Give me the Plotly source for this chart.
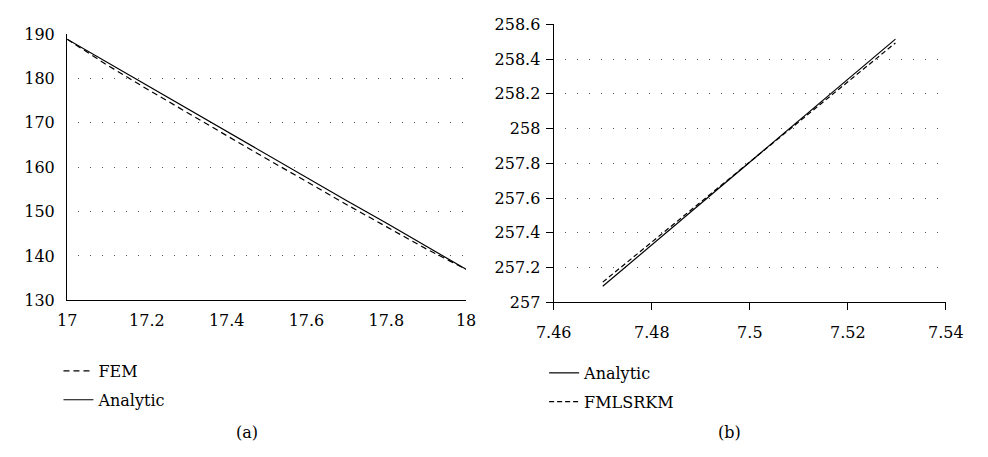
import plotly.graph_objects as go

# Panel (a)
x_a = [17.0, 17.1, 17.2, 17.3, 17.4, 17.5, 17.6, 17.7, 17.8, 17.9, 18.0]
fem = [188.8, 183.0, 177.6, 172.3, 167.1, 161.9, 156.7, 151.6, 146.6, 141.6, 137.0]
analytic_a = [188.8, 183.6, 178.4, 173.3, 168.1, 162.9, 157.7, 152.5, 147.4, 142.2, 137.0]

# Panel (b)
x_b = [7.470, 7.480, 7.490, 7.500, 7.510, 7.520, 7.5297]
analytic_b = [257.092, 257.330, 257.569, 257.807, 258.046, 258.284, 258.515]
fmlsrkm = [257.116, 257.347, 257.578, 257.808, 258.038, 258.268, 258.493]

xticks_a = [17, 17.2, 17.4, 17.6, 17.8, 18]
xticklabels_a = ["17", "17.2", "17.4", "17.6", "17.8", "18"]
yticks_a = [130, 140, 150, 160, 170, 180, 190]
xticks_b = [7.46, 7.48, 7.50, 7.52, 7.54]
xticklabels_b = ["7.46", "7.48", "7.5", "7.52", "7.54"]
yticks_b = [257.0, 257.2, 257.4, 257.6, 257.8, 258.0, 258.2, 258.4, 258.6]
yticklabels_b = ["257", "257.2", "257.4", "257.6", "257.8", "258", "258.2", "258.4", "258.6"]

FONT = "DejaVu Serif, serif"
FS = 16
W, H = 988, 457

fig = go.Figure()
fig.add_trace(go.Scatter(x=x_a, y=fem, name="FEM", mode="lines", legendgroup="a1",
                         line=dict(color="black", width=1.2, dash="6px,4px"),
                         xaxis="x", yaxis="y", legend="legend"))
fig.add_trace(go.Scatter(x=x_a, y=analytic_a, name="Analytic", mode="lines", legendgroup="a2",
                         line=dict(color="black", width=1.2),
                         xaxis="x", yaxis="y", legend="legend"))
fig.add_trace(go.Scatter(x=x_b, y=analytic_b, name="Analytic", mode="lines", legendgroup="b1",
                         line=dict(color="black", width=1.2),
                         xaxis="x2", yaxis="y2", legend="legend2"))
fig.add_trace(go.Scatter(x=x_b, y=fmlsrkm, name="FMLSRKM", mode="lines", legendgroup="b2",
                         line=dict(color="black", width=1.2, dash="5px,3px"),
                         xaxis="x2", yaxis="y2", legend="legend2"))

def px(v):
    return v / W

def py(v):
    return (H - v) / H

grid = dict(showgrid=True, gridcolor="#555", gridwidth=1, griddash="0px,11px,1px,0px")

fig.update_layout(
    width=W, height=H,
    margin=dict(l=0, r=0, t=0, b=0),
    paper_bgcolor="white", plot_bgcolor="white",
    font=dict(family=FONT, size=FS, color="black"),
    xaxis=dict(domain=[px(51), px(465)], range=[17, 18], tickvals=xticks_a,
               ticktext=xticklabels_a, showline=True, linecolor="black", linewidth=1.3,
               showgrid=False, zeroline=False, ticks="", ticklabelstandoff=5, anchor="y"),
    yaxis=dict(domain=[py(304), py(26)], range=[130, 190], tickvals=yticks_a,
               showline=True, linecolor="black", linewidth=1.3, zeroline=False,
               ticks="", ticklabelstandoff=8, anchor="x", **grid),
    xaxis2=dict(domain=[px(556), px(963)], range=[7.46, 7.54], tickvals=xticks_b,
                ticktext=xticklabels_b, showline=True, linecolor="black", linewidth=1.3,
                showgrid=False, zeroline=False, ticks="outside", ticklen=7,
                tickcolor="black", tickwidth=1.3, ticklabelstandoff=8, anchor="y2"),
    yaxis2=dict(domain=[py(306), py(16)], range=[257, 258.6], tickvals=yticks_b,
                ticktext=yticklabels_b, showline=True, linecolor="black", linewidth=1.3,
                zeroline=False, ticks="outside", ticklen=7, tickcolor="black",
                tickwidth=1.3, ticklabelstandoff=2, anchor="x2", **grid),
    legend=dict(x=px(42), y=py(360), xanchor="left", yanchor="top",
                bgcolor="rgba(0,0,0,0)", font=dict(family=FONT, size=FS),
                itemwidth=30, tracegroupgap=5),
    legend2=dict(x=px(546), y=py(362), xanchor="left", yanchor="top",
                 bgcolor="rgba(0,0,0,0)", font=dict(family=FONT, size=FS),
                 itemwidth=30, tracegroupgap=5),
    showlegend=True,
    annotations=[
        dict(text="(a)", x=px(238), y=py(442), xref="paper", yref="paper",
             xanchor="center", yanchor="middle", showarrow=False,
             font=dict(family=FONT, size=FS)),
        dict(text="(b)", x=px(738), y=py(442), xref="paper", yref="paper",
             xanchor="center", yanchor="middle", showarrow=False,
             font=dict(family=FONT, size=FS)),
    ],
)

fig.write_html("out.html")
